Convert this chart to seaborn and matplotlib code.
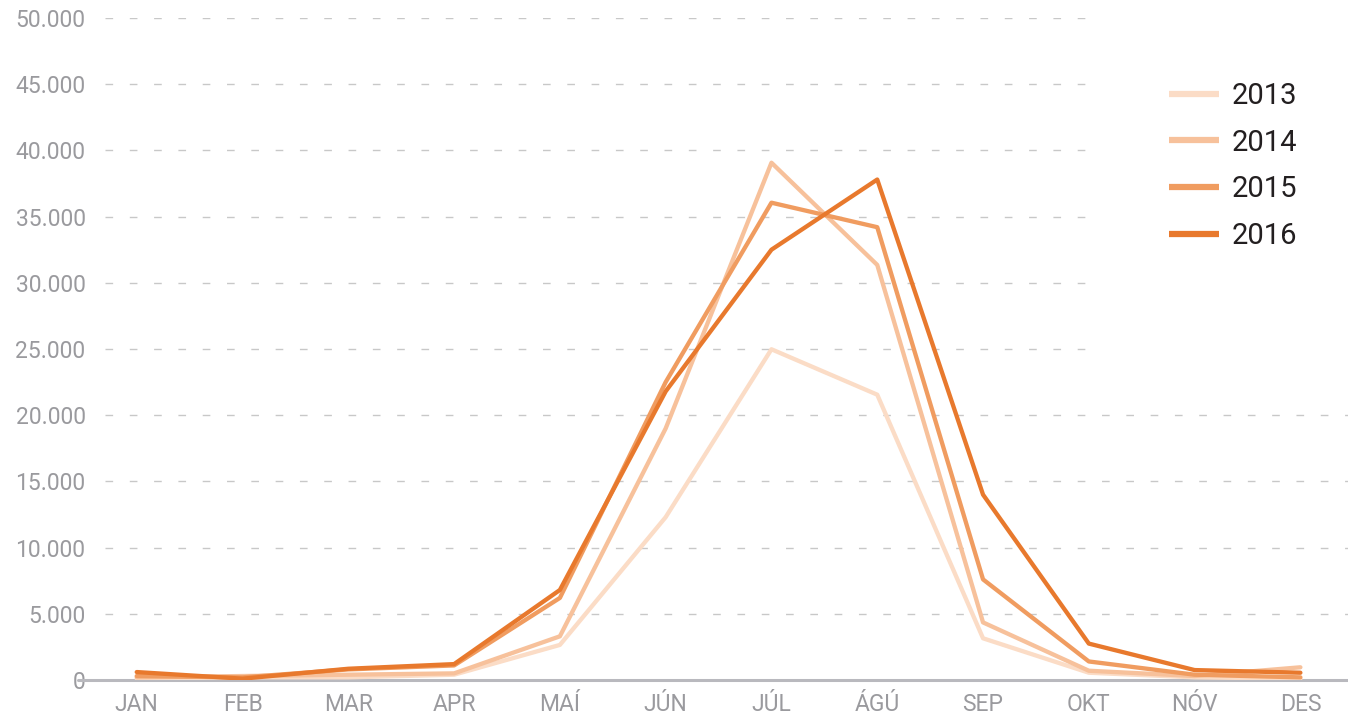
import pandas as pd
import matplotlib.pyplot as plt
import matplotlib.patches as mpatches
from matplotlib.ticker import FuncFormatter
import seaborn as sns

# ── DATA ────────────────────────────────────────────────────
months = ['JAN', 'FEB', 'MAR', 'APR', 'MAÍ', 'JÚN', 'JÚL', 'ÁGÚ', 'SEP', 'OKT', 'NÓV', 'DES']
years = ['2013', '2014', '2015', '2016']

v2013 = [100, 200, 200, 400, 2650, 12300, 24980, 21550, 3150, 550, 200, 100]
v2014 = [200, 300, 400, 500, 3300, 19000, 39070, 31350, 4350, 700, 300, 960]
v2015 = [300, 200, 800, 1100, 6200, 22500, 36050, 34200, 7600, 1400, 400, 200]
v2016 = [600, 100, 850, 1200, 6800, 21800, 32500, 37800, 14000, 2750, 750, 550]

colors = ['#FBDCC6', '#F7C19B', '#F09C60', '#E8792D']
yticks = [0, 5000, 10000, 15000, 20000, 25000, 30000, 35000, 40000, 45000, 50000]

df = pd.DataFrame({
    'month': list(range(len(months))) * 4,
    'value': v2013 + v2014 + v2015 + v2016,
    'year': [y for y in years for _ in months],
})

# ── PLOT ────────────────────────────────────────────────────
sns.set_style('white')
plt.rcParams['font.family'] = ['Roboto', 'DejaVu Sans']

W, H = 1348, 717
fig = plt.figure(figsize=(W / 100, H / 100), dpi=100)
ax = fig.add_axes([105 / W, (H - 680) / H, (W - 105) / W, (680 - 18) / H])

sns.lineplot(data=df, x='month', y='value', hue='year', hue_order=years,
             palette=dict(zip(years, colors)), linewidth=3.1, sort=False,
             ax=ax, zorder=3, legend=False)

ax.set_xlim(-0.30, 11.45)
ax.set_ylim(0, 50000)
ax.set_xticks(range(len(months)))
ax.set_xticklabels(months)
ax.set_yticks(yticks)
ax.yaxis.set_major_formatter(FuncFormatter(lambda v, p: f'{int(v):,}'.replace(',', '.')))
ax.set_xlabel('')
ax.set_ylabel('')

ax.tick_params(axis='y', length=0, pad=14, labelsize=16.5, labelcolor='#9A9A9E')
ax.tick_params(axis='x', length=0, pad=22, labelsize=16.5, labelcolor='#9A9A9E')
for t in ax.get_xticklabels():
    t.set_verticalalignment('baseline')
for s in ax.spines.values():
    s.set_visible(False)

ax.set_axisbelow(True)
ax.grid(axis='y', color='#C8C8C8', linewidth=1.0, linestyle=(0, (5.5, 12)))
ax.grid(axis='x', visible=False)

# baseline at zero, reaching a bit left of the plot area
ax.axhline(0, xmin=-(105 - 78) / (W - 105), xmax=1, color='#B9B9BE',
           linewidth=2.2, clip_on=False, zorder=2)

# white block behind the legend hides the upper gridlines
ax.add_patch(mpatches.Rectangle(((1100 - 105) / (W - 105), (680 - 380) / 662),
                                1, 1, transform=ax.transAxes, facecolor='white',
                                edgecolor='none', zorder=1, clip_on=False))

handles = [plt.Line2D([], [], color=c, linewidth=4.5, solid_capstyle='butt') for c in colors]
leg = ax.legend(handles, years, loc='upper left',
                bbox_to_anchor=((1169 - 105) / (W - 105), (680 - 82) / 662),
                frameon=False, borderpad=0, borderaxespad=0,
                handlelength=1.7, handletextpad=0.45, labelspacing=0.64,
                prop={'family': ['Roboto', 'DejaVu Sans'], 'size': 21})
for t in leg.get_texts():
    t.set_color('#231F20')

plt.savefig('out.png', dpi=100)
